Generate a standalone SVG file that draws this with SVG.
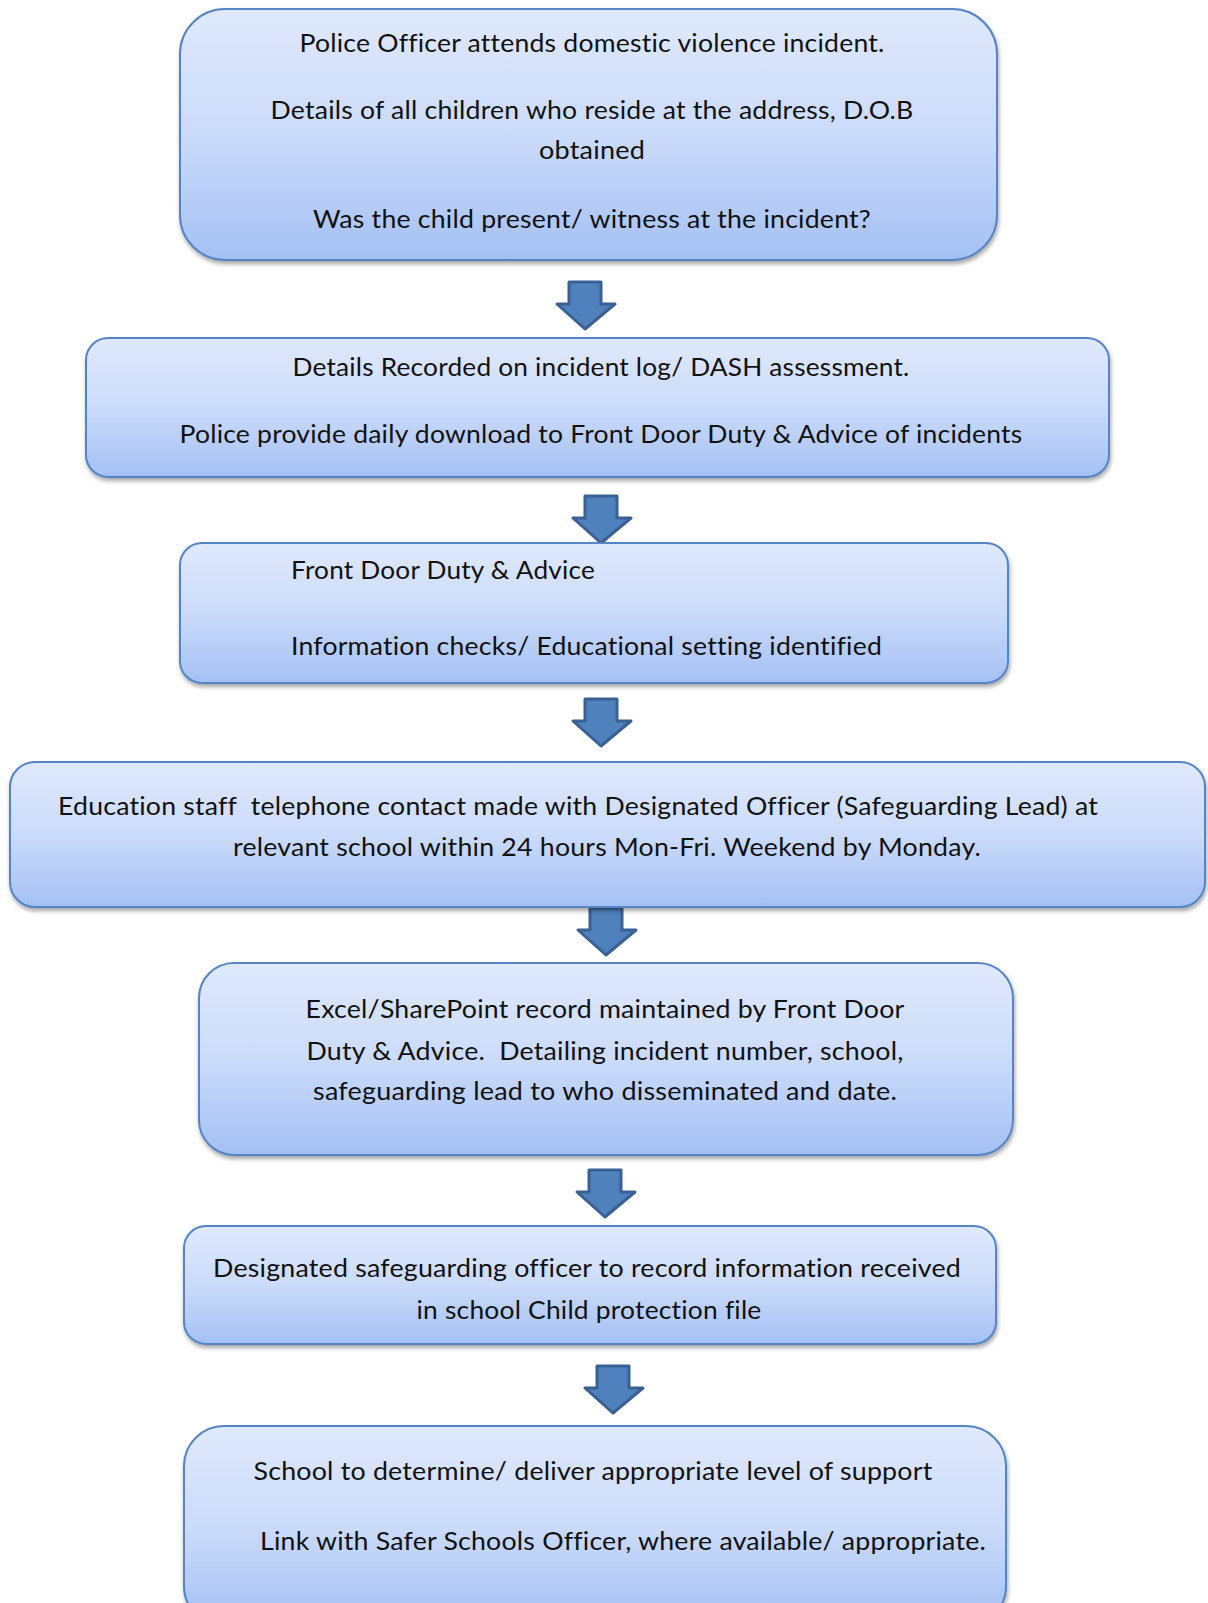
<svg xmlns="http://www.w3.org/2000/svg" xmlns:xlink="http://www.w3.org/1999/xlink" width="1208" height="1603" viewBox="0 0 1208 1603">
<defs>
<linearGradient id="bg" x1="0" y1="0" x2="0" y2="1">
<stop offset="0" stop-color="#e0e9fc"/>
<stop offset="0.5" stop-color="#cbdbfa"/>
<stop offset="1" stop-color="#a4c0f4"/>
</linearGradient>
<filter id="sh" x="-5%" y="-5%" width="110%" height="115%">
<feDropShadow dx="1" dy="3" stdDeviation="2" flood-color="#000" flood-opacity="0.35"/>
</filter>
<path id="arr" d="M13,1 L45,1 L45,23 L59,23 L29,48 L1,23 L13,23 Z"/>
</defs>
<style>
.box{fill:url(#bg);stroke:#5585c2;stroke-width:2;filter:url(#sh)}
.t{font-family:Lato,"Open Sans","Liberation Sans",sans-serif;font-size:25px;fill:#111;white-space:pre;font-variant-ligatures:none;font-feature-settings:"liga" 0,"clig" 0;letter-spacing:0.2px}
.c{text-anchor:middle}
.arrow{fill:#4f81bd;stroke:#3a6094;stroke-width:3;stroke-linejoin:round}
</style>
<rect width="1208" height="1603" fill="#fff"/>
<g id="connectors">
<use xlink:href="#arr" class="arrow" x="556" y="281"/>
<use xlink:href="#arr" class="arrow" x="572" y="495"/>
<use xlink:href="#arr" class="arrow" x="572" y="698"/>
<use xlink:href="#arr" class="arrow" x="577" y="907"/>
<use xlink:href="#arr" class="arrow" x="576" y="1169"/>
<use xlink:href="#arr" class="arrow" x="584" y="1365"/>
</g>
<g id="node1">
<rect class="box" x="180" y="9" width="817" height="251" rx="45"/>
<text class="t c" x="592" y="52" textLength="585" lengthAdjust="spacingAndGlyphs">Police Officer attends domestic violence incident.</text>
<text class="t c" x="592" y="119" textLength="643" lengthAdjust="spacingAndGlyphs">Details of all children who reside at the address, D.O.B</text>
<text class="t c" x="592" y="159" textLength="106" lengthAdjust="spacingAndGlyphs">obtained</text>
<text class="t c" x="592" y="228" textLength="558" lengthAdjust="spacingAndGlyphs">Was the child present/ witness at the incident?</text>
</g>
<g id="node2">
<rect class="box" x="86" y="338" width="1023" height="139" rx="22"/>
<text class="t c" x="601" y="376" textLength="617" lengthAdjust="spacingAndGlyphs">Details Recorded on incident log/ DASH assessment.</text>
<text class="t c" x="601" y="443" textLength="843" lengthAdjust="spacingAndGlyphs">Police provide daily download to Front Door Duty &amp; Advice of incidents</text>
</g>
<g id="node3">
<rect class="box" x="180" y="543" width="828" height="140" rx="22"/>
<text class="t" x="291" y="579" textLength="304" lengthAdjust="spacingAndGlyphs">Front Door Duty &amp; Advice</text>
<text class="t" x="291" y="655" textLength="591" lengthAdjust="spacingAndGlyphs">Information checks/ Educational setting identified</text>
</g>
<g id="node4">
<rect class="box" x="10" y="762" width="1195" height="145" rx="25"/>
<text class="t" x="58" y="815" textLength="1040" lengthAdjust="spacingAndGlyphs">Education staff  telephone contact made with Designated Officer (Safeguarding Lead) at</text>
<text class="t c" x="607" y="856" textLength="748" lengthAdjust="spacingAndGlyphs">relevant school within 24 hours Mon-Fri. Weekend by Monday.</text>
</g>
<g id="node5">
<rect class="box" x="199" y="963" width="814" height="192" rx="35"/>
<text class="t c" x="605" y="1018" textLength="599" lengthAdjust="spacingAndGlyphs">Excel/SharePoint record maintained by Front Door</text>
<text class="t c" x="605" y="1060" textLength="597" lengthAdjust="spacingAndGlyphs">Duty &amp; Advice.  Detailing incident number, school,</text>
<text class="t c" x="605" y="1100" textLength="584" lengthAdjust="spacingAndGlyphs">safeguarding lead to who disseminated and date.</text>
</g>
<g id="node6">
<rect class="box" x="184" y="1226" width="812" height="118" rx="22"/>
<text class="t c" x="587" y="1277" textLength="748" lengthAdjust="spacingAndGlyphs">Designated safeguarding officer to record information received</text>
<text class="t c" x="589" y="1319" textLength="345" lengthAdjust="spacingAndGlyphs">in school Child protection file</text>
</g>
<g id="node7">
<rect class="box" x="184" y="1426" width="822" height="200" rx="40"/>
<text class="t c" x="593" y="1480" textLength="679" lengthAdjust="spacingAndGlyphs">School to determine/ deliver appropriate level of support</text>
<text class="t c" x="623" y="1550" textLength="726" lengthAdjust="spacingAndGlyphs">Link with Safer Schools Officer, where available/ appropriate.</text>
</g>
</svg>
